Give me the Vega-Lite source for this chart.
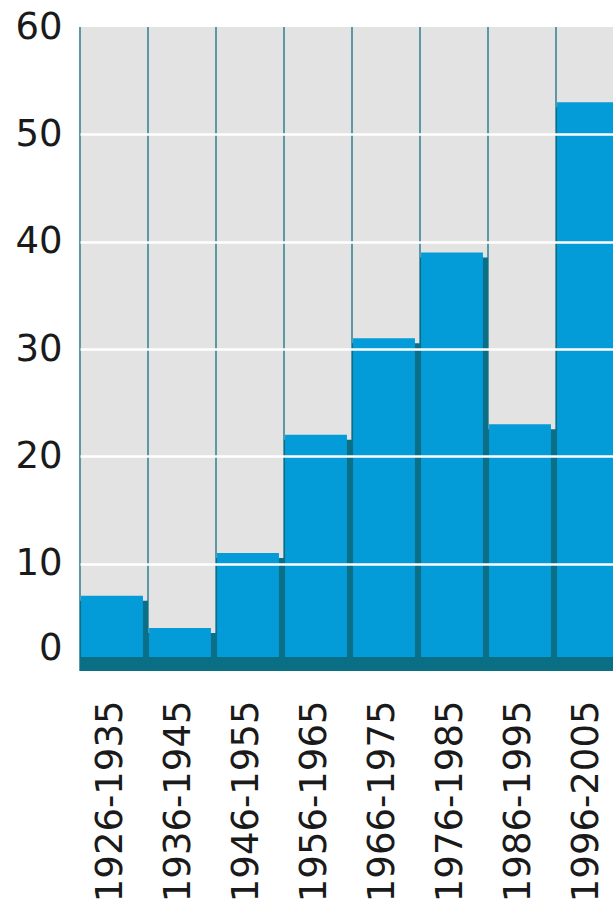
{
  "$schema": "https://vega.github.io/schema/vega-lite/v6.json",
  "autosize": {"type": "none"},
  "padding": {"left": 80, "top": 27, "right": 0, "bottom": 246},
  "width": 533,
  "height": 644,
  "background": "white",
  "config": {"view": {"stroke": null, "fill": "#e3e3e3"}, "font": "DejaVu Sans"},
  "data": {"values": [
    {"period": "1926-1935", "value": 7},
    {"period": "1936-1945", "value": 4},
    {"period": "1946-1955", "value": 11},
    {"period": "1956-1965", "value": 22},
    {"period": "1966-1975", "value": 31},
    {"period": "1976-1985", "value": 39},
    {"period": "1986-1995", "value": 23},
    {"period": "1996-2005", "value": 53}
  ]},
  "encoding": {
    "x": {"field": "period", "type": "nominal", "sort": null,
      "scale": {"type": "band", "paddingInner": 0, "paddingOuter": 0, "range": [0, 544]},
      "axis": {"title": null, "labelAngle": -90, "labelFontSize": 37, "labelColor": "#1a1a1a", "labelPadding": 29, "labelOffset": -3, "labelLimit": 400, "ticks": false, "domain": false, "grid": false}}
  },
  "layer": [
    {
      "mark": {"type": "rule", "color": "#5b98a6", "strokeWidth": 2},
      "encoding": {"x": {"field": "period", "type": "nominal", "sort": null, "bandPosition": 0}}
    },
    {
      "mark": {"type": "bar", "color": "#0b6f87", "yOffset": 5, "width": {"band": 1}},
      "encoding": {
        "y": {"field": "value", "type": "quantitative",
          "scale": {"domain": [0, 60], "nice": false, "zero": false},
          "axis": {"title": null, "values": [0, 10, 20, 30, 40, 50, 60], "labelFontSize": 37, "labelColor": "#1a1a1a", "labelPadding": 18, "ticks": false, "domain": false, "grid": true, "gridColor": {"condition": {"test": "datum.value === 0 || datum.value === 60", "value": "transparent"}, "value": "#ffffff"}, "gridWidth": 2.5, "zindex": 1, "labelOffset": {"condition": {"test": "datum.value === 0", "value": -23}, "value": 0}}},
        "y2": {"datum": 0}
      }
    },
    {
      "mark": {"type": "bar", "color": "#049bd9", "xOffset": -2, "width": {"band": 0.91}},
      "encoding": {
        "y": {"field": "value", "type": "quantitative"},
        "y2": {"datum": 0}
      }
    },
    {
      "mark": {"type": "bar", "color": "#0a6e85", "width": {"band": 1}},
      "encoding": {
        "y": {"datum": 0},
        "y2": {"datum": 1.3}
      }
    }
  ]
}
